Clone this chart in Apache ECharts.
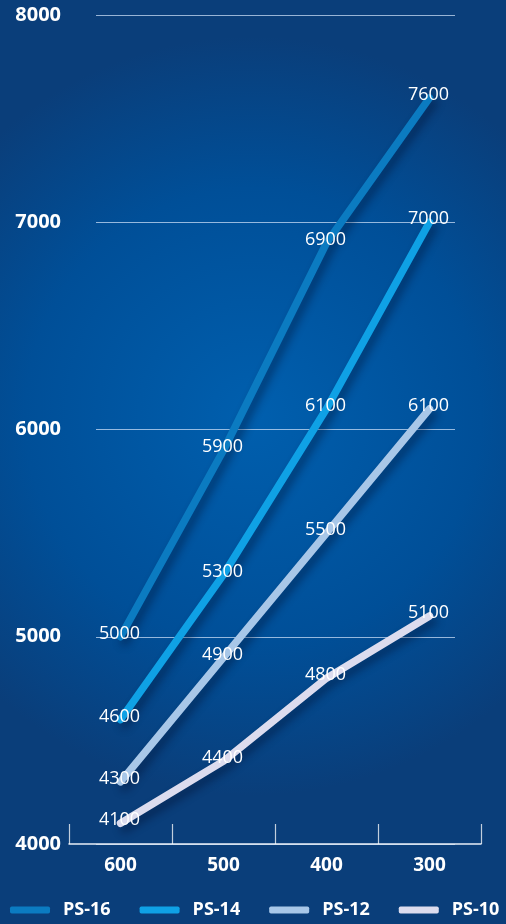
<!DOCTYPE html>
<html>
<head>
<meta charset="utf-8">
<script src="https://cdn.jsdelivr.net/npm/echarts@6/dist/echarts.min.js"></script>
<style>
html,body{margin:0;padding:0;background:#0a4583;}
#c{width:506px;height:924px;}
</style>
</head>
<body>
<div id="c"></div>
<script>
const categories = ['600', '500', '400', '300'];
const seriesNames = ['PS-16', 'PS-14', 'PS-12', 'PS-10'];
const ps16 = [5000, 5900, 6900, 7600];
const ps14 = [4600, 5300, 6100, 7000];
const ps12 = [4300, 4900, 5500, 6100];
const ps10 = [4100, 4400, 4800, 5100];
const yTicks = { min: 4000, max: 8000, interval: 1000 };

const colors = ['#0b7bc1', '#0fa1e5', '#a8c7e8', '#dcdcee'];
const values = [ps16, ps14, ps12, ps10];
const FONT = '"Open Sans", sans-serif';

const chart = echarts.init(document.getElementById('c'));
chart.setOption({
  backgroundColor: {
    type: 'radial', x: 0.5, y: 0.45, r: 0.75,
    colorStops: [
      { offset: 0, color: '#005fae' },
      { offset: 0.6, color: '#004f98' },
      { offset: 1, color: '#0a3e7a' }
    ]
  },
  grid: [
    { left: 69, right: 25, top: 15, bottom: 80 },
    { left: 96, right: 51, top: 15, bottom: 80 }
  ],
  xAxis: [
    {
      type: 'category', gridIndex: 0, data: categories, boundaryGap: true,
      axisLine: { show: true, lineStyle: { color: '#e8eef8', width: 1.5 } },
      axisTick: { show: true, inside: true, length: 20, alignWithLabel: false, interval: 0,
        lineStyle: { color: 'rgba(255,255,255,0.75)', width: 1.2 } },
      axisLabel: { color: '#ffffff', fontFamily: FONT, fontWeight: 'bold', fontSize: 19, margin: 12 }
    },
    { type: 'category', gridIndex: 1, data: categories, show: false }
  ],
  yAxis: [
    {
      type: 'value', gridIndex: 0, min: yTicks.min, max: yTicks.max, interval: yTicks.interval,
      axisLine: { show: false }, axisTick: { show: false }, splitLine: { show: false },
      axisLabel: { color: '#ffffff', fontFamily: FONT, fontWeight: 'bold', fontSize: 20, margin: 8,
        formatter: v => String(v) }
    },
    {
      type: 'value', gridIndex: 1, min: yTicks.min, max: yTicks.max, interval: yTicks.interval,
      axisLine: { show: false }, axisTick: { show: false }, axisLabel: { show: false },
      splitLine: { show: true, lineStyle: { color: 'rgba(200,220,245,0.75)', width: 1 } }
    }
  ],
  legend: {
    data: seriesNames, left: 10, top: 901, width: 500, padding: 0,
    itemWidth: 40, itemHeight: 7, itemGap: 29,
    icon: 'roundRect',
    textStyle: { color: '#ffffff', fontFamily: FONT, fontWeight: 'bold', fontSize: 18, padding: [0, 0, 0, 8] }
  },
  series: seriesNames.map((name, i) => ({
    name, type: 'line', xAxisIndex: 0, yAxisIndex: 0,
    data: values[i],
    symbol: 'circle', symbolSize: 1,
    itemStyle: { color: colors[i] },
    lineStyle: {
      color: colors[i], width: 7.5, cap: 'round', join: 'round',
      shadowColor: 'rgba(0,10,40,0.45)', shadowBlur: 8, shadowOffsetX: 4, shadowOffsetY: 5
    },
    label: {
      show: true, position: 'inside', offset: [-1, -3], color: '#ffffff',
      fontFamily: FONT, fontSize: 18
    },
    emphasis: { disabled: true },
    z: 10 - i
  }))
});
</script>
</body>
</html>
